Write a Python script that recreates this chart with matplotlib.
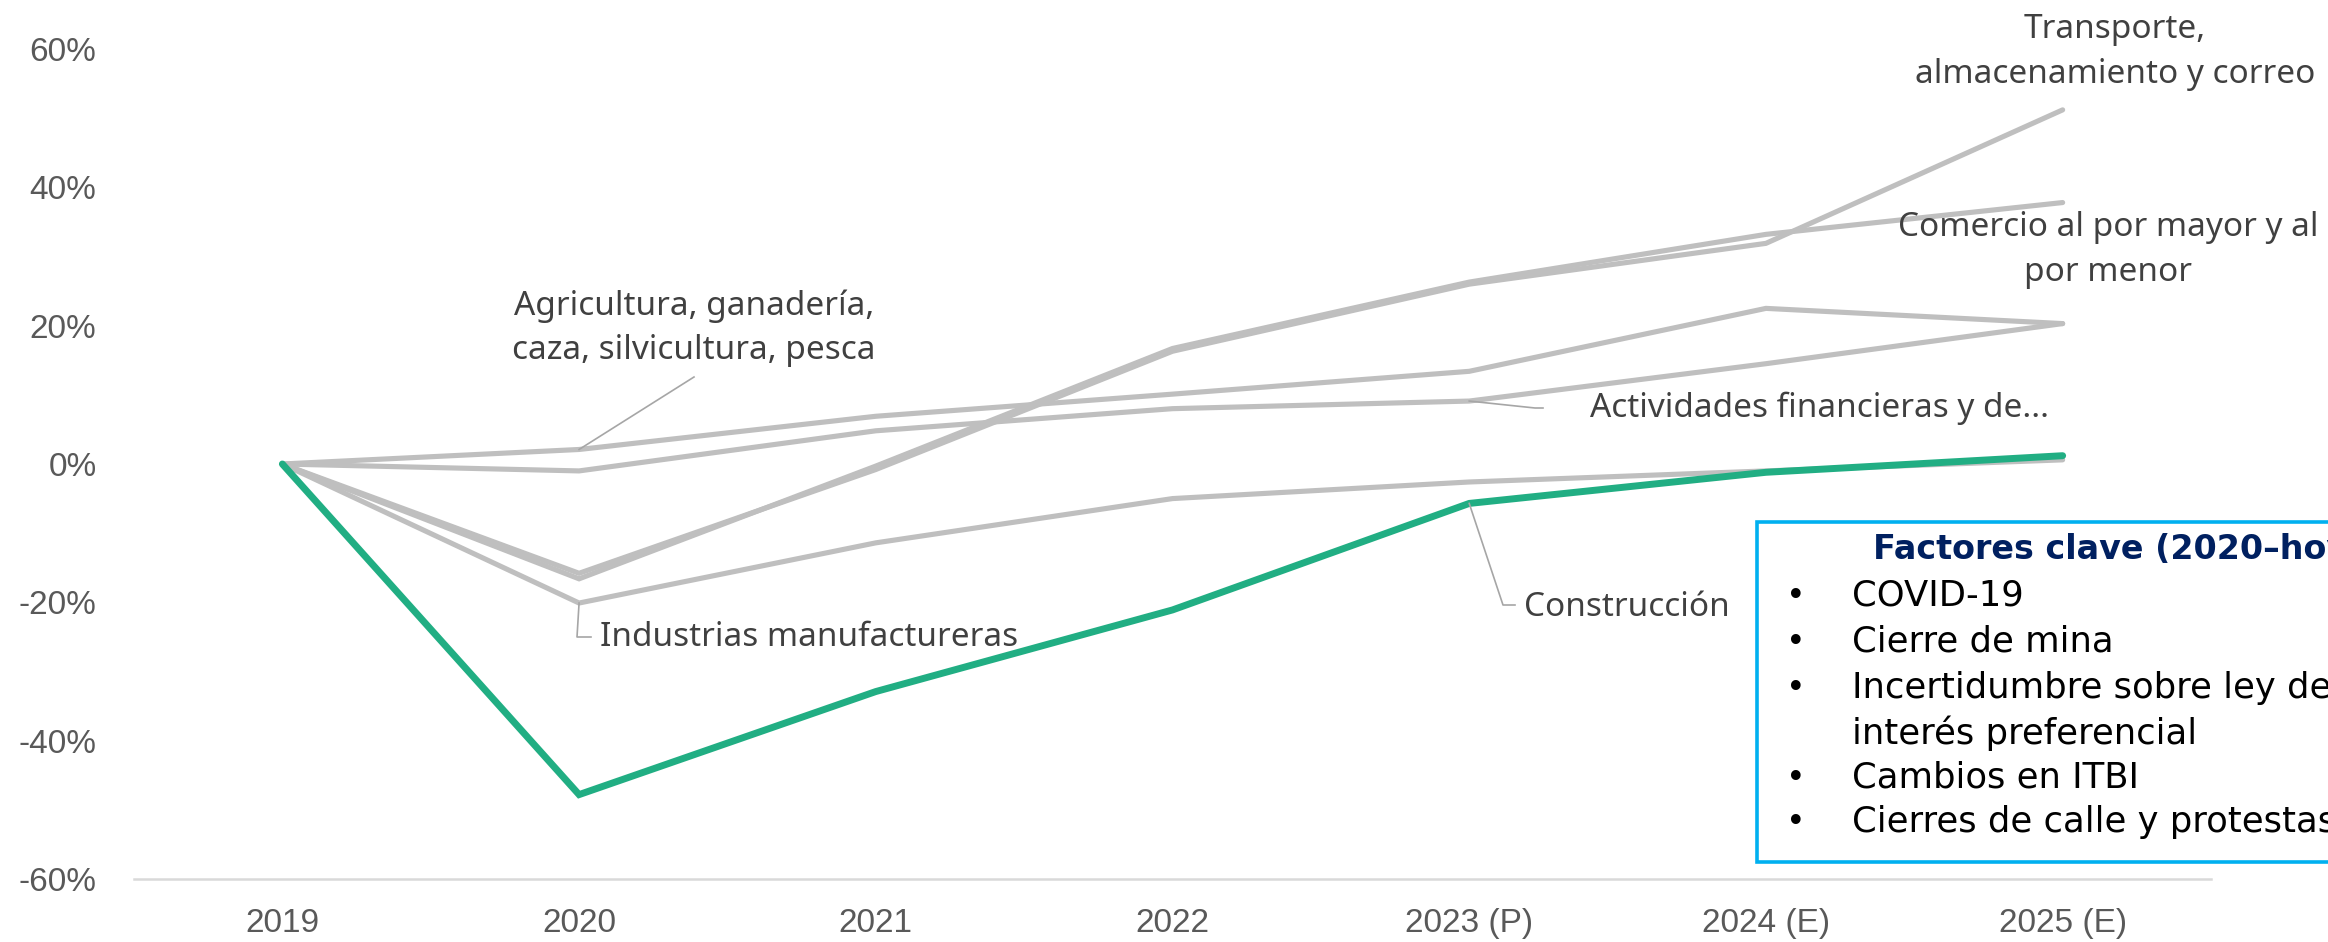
import matplotlib
matplotlib.use("Agg")
import matplotlib.pyplot as plt
from matplotlib.lines import Line2D
from matplotlib.patches import Rectangle
from matplotlib.transforms import IdentityTransform
from matplotlib.ticker import FuncFormatter

# ---- data -------------------------------------------------------------
years = ["2019", "2020", "2021", "2022", "2023 (P)", "2024 (E)", "2025 (E)"]

agricultura = [0.0, 2.1, 6.9, 10.1, 13.4, 22.5, 20.3]
financieras = [0.0, -1.0, 4.8, 8.0, 9.1, 14.5, 20.3]
transporte = [0.0, -15.8, -0.8, 16.3, 26.0, 31.9, 51.2]
comercio = [0.0, -16.6, -0.3, 16.7, 26.3, 33.2, 37.8]
manufactura = [0.0, -20.1, -11.4, -5.0, -2.6, -1.0, 0.6]
construccion = [0.0, -47.8, -32.9, -21.1, -5.7, -1.2, 1.2]

y_ticks = [-60, -40, -20, 0, 20, 40, 60]

factores_titulo = "Factores clave (2020\u2013hoy)"
factores = ["COVID-19", "Cierre de mina", "Incertidumbre sobre ley de",
            "interés preferencial", "Cambios en ITBI", "Cierres de calle y protestas"]
factores_bullet = [True, True, True, False, True, True]

# ---- styling ----------------------------------------------------------
W, H = 2328, 942
GRAY = "#BFBFBF"
GREEN = "#21AE83"
LEADER = "#A6A6A6"
LABEL = "#404040"
TICK = "#595959"
LABEL_FONT = ["Noto Sans", "DejaVu Sans"]
TICK_FONT = ["Liberation Sans", "DejaVu Sans"]
BOX_FONT = ["DejaVu Sans"]
TITLE_FONT = ["DejaVu Sans"]

fig = plt.figure(figsize=(W / 100, H / 100), dpi=100)
fig.patch.set_facecolor("white")
ax = fig.add_axes([134 / W, 1 - 879 / H, (2211 - 134) / W, (879 - 49) / H])

x = list(range(len(years)))
pct = lambda s: [v / 100 for v in s]

for series in (agricultura, financieras, transporte, comercio, manufactura):
    ax.plot(x, pct(series), color=GRAY, lw=3.7, solid_capstyle="round",
            solid_joinstyle="miter", zorder=2)
ax.plot(x, pct(construccion), color=GREEN, lw=5.0, solid_capstyle="round",
        solid_joinstyle="miter", zorder=3)

ax.set_xlim(-0.5, len(years) - 0.5)
ax.set_ylim(-0.6, 0.6)
ax.set_xticks(x)
ax.set_xticklabels(years)
ax.set_yticks([t / 100 for t in y_ticks])
ax.yaxis.set_major_formatter(FuncFormatter(lambda v, _: f"{v * 100:.0f}%"))
for lab in ax.get_xticklabels() + ax.get_yticklabels():
    lab.set_fontfamily(TICK_FONT)
    lab.set_fontsize(24)
    lab.set_color(TICK)
ax.tick_params(axis="both", length=0)
ax.tick_params(axis="x", pad=21)
ax.tick_params(axis="y", pad=27)
for side in ("top", "right", "left"):
    ax.spines[side].set_visible(False)
ax.spines["bottom"].set_color("#D9D9D9")
ax.spines["bottom"].set_linewidth(1.8)
ax.set_facecolor("none")


def disp(px, py):
    """Image pixel (from top-left) -> display coords (from bottom-left)."""
    return px, H - py


def leader(i, series, points):
    x0, y0 = ax.transData.transform((i, series[i] / 100))
    xs = [x0] + [disp(*p)[0] for p in points]
    ys = [y0] + [disp(*p)[1] for p in points]
    fig.add_artist(Line2D(xs, ys, color=LEADER, lw=1.2,
                          transform=IdentityTransform(), zorder=4))


def label(px, py, text, ha="left"):
    fx, fy = px / W, 1 - py / H
    fig.text(fx, fy, text, ha=ha, va="center", fontsize=24, color=LABEL,
             family=LABEL_FONT, linespacing=1.45, zorder=5)


# Series labels
label(2115, 52, "Transporte,\nalmacenamiento y correo", ha="center")
label(2108, 250, "Comercio al por mayor y al\npor menor", ha="center")
leader(1, agricultura, [(694, 377)])
label(694, 328, "Agricultura, ganadería,\ncaza, silvicultura, pesca", ha="center")
leader(4, financieras, [(1535, 408), (1543, 408)])
label(1590, 408, "Actividades financieras y de...")
leader(4, construccion, [(1503, 605), (1515, 605)])
label(1524, 607, "Construcción")
leader(1, manufactura, [(577, 637), (591, 637)])
label(600, 637, "Industrias manufactureras")

# Key factors box
box = Rectangle((1757 / W, 1 - 862 / H), (2400 - 1757) / W, (862 - 522) / H,
                transform=fig.transFigure, facecolor="white",
                edgecolor="#00B0F0", lw=2.6, zorder=6)
fig.add_artist(box)
fig.text(1873 / W, 1 - 550 / H, factores_titulo, ha="left", va="center",
         fontsize=24, fontweight="bold", color="#002060", family=TITLE_FONT, zorder=7)
row_y = [596, 642, 688, 733, 778, 822]
for yy, txt, bul in zip(row_y, factores, factores_bullet):
    if bul:
        fig.text(1796 / W, 1 - yy / H, "\u2022", ha="center", va="center",
                 fontsize=24, color="black", family=BOX_FONT, zorder=7)
    fig.text(1852 / W, 1 - yy / H, txt, ha="left", va="center",
             fontsize=25.5, color="black", family=BOX_FONT, zorder=7)

fig.savefig("out.png", dpi=100)
